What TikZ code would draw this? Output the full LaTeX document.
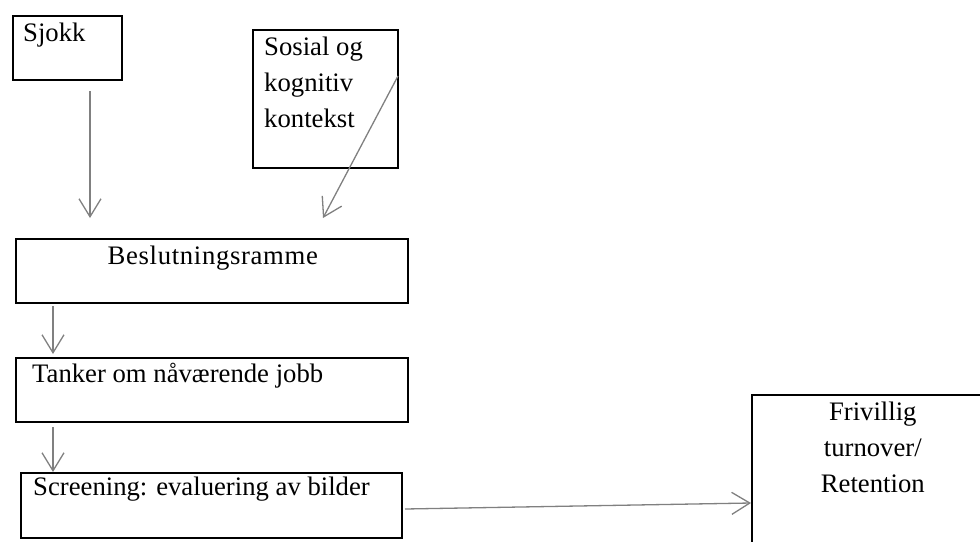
\documentclass[tikz,border=0pt]{standalone}
\usepackage{fontspec}
\setmainfont{Liberation Serif}
\newfontfamily\spacedfont[LetterSpace=2.5]{Liberation Serif}
\usepackage{tikz}
\usetikzlibrary{arrows.meta}
\usetikzlibrary{positioning}
\definecolor{flowgray}{RGB}{128,128,128}

\begin{document}
\begin{tikzpicture}[
	x=1pt, y=-1pt,
	box/.style={draw=black, line width=1.6pt, inner sep=0pt, anchor=north west},
	txt/.style={inner sep=0pt, font=\fontsize{26.7}{36}\selectfont},
	flow/.style={color=flowgray, line width=1.3pt,
		-{Straight Barb[length=18pt, width=22pt]}}
	]
	\path[use as bounding box, clip] (0,0) rectangle (980,541);

	\node[box, minimum width=109, minimum height=64] (sjokk) at (12,15) {};
	\node[box, minimum width=145, minimum height=138] (sosial) at (252,29) {};
	\node[box, minimum width=392, minimum height=64] (ramme) at (15,238) {};
	\node[box, minimum width=392, minimum height=64] (tanker) at (15,357) {};
	\node[box, minimum width=381, minimum height=65] (screening) at (20,472) {};
	\node[box, minimum width=242, minimum height=170] (frivillig) at (751,394) {};

	% multi-line texts sit on the baseline of their last line
	\node[txt, anchor=base west] (sjokk-txt)
		at ([shift={(11,26)}]sjokk.north west) {Sjokk};
	\node[txt, anchor=base west, align=left] (sosial-txt)
		at ([shift={(12,98)}]sosial.north west) {Sosial og\\kognitiv\\kontekst};
	\node[txt, anchor=base] (ramme-txt)
		at ([shift={(1,26)}]ramme.north) {\spacedfont Beslutningsramme};
	\node[txt, anchor=base west] (tanker-txt)
		at ([shift={(17,25)}]tanker.north west) {Tanker om nåværende jobb};
	\node[txt, anchor=base west] (screening-txt)
		at ([shift={(13,23)}]screening.north west) {Screening: evaluering av bilder};
	\node[txt, anchor=base, align=center] (frivillig-txt)
		at ([shift={(0,98)}]frivillig.north) {Frivillig\\turnover/\\Retention};

	% free ends of the arrows
	\coordinate (sjokk-a) at (90,91);
	\coordinate (sjokk-b) at (90,218);
	\coordinate (sosial-a) at (398,76);
	\coordinate (sosial-b) at (323,218);
	\coordinate (ramme-a) at (53,306);
	\coordinate (ramme-b) at (53,354);
	\coordinate (tanker-a) at (53,427);
	\coordinate (tanker-b) at (53,472);
	\coordinate (screening-a) at (405,509);
	\coordinate (screening-b) at (751,503);

	\draw[flow] (sjokk-a) -- (sjokk-b);
	\draw[flow] (sosial-a) -- (sosial-b);
	\draw[flow] (ramme-a) -- (ramme-b);
	\draw[flow] (tanker-a) -- (tanker-b);
	\draw[flow] (screening-a) -- (screening-b);
\end{tikzpicture}
\end{document}
